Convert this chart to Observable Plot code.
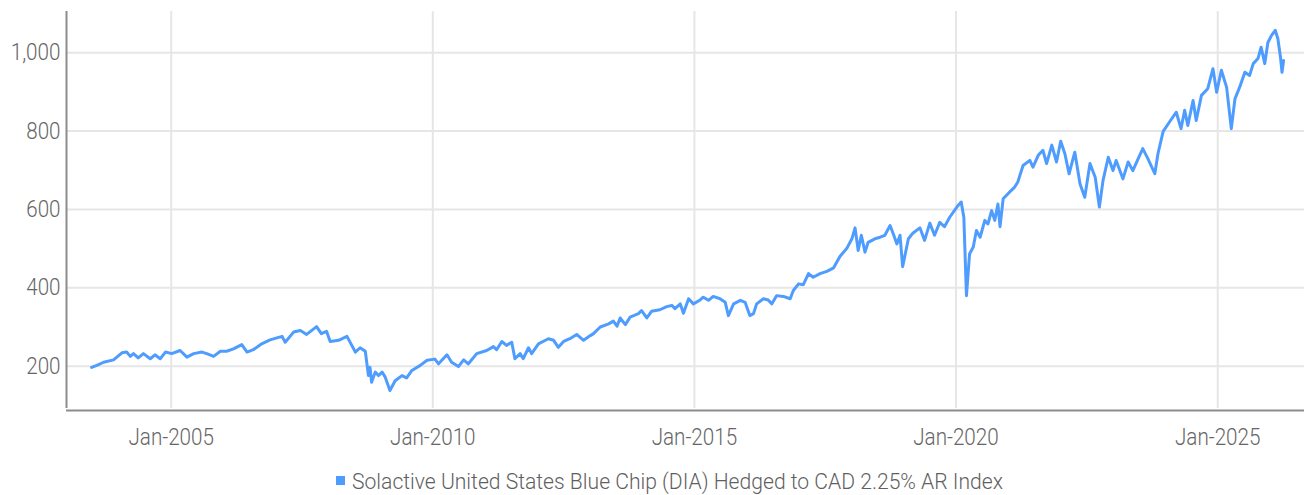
<!DOCTYPE html>
<html>
<head>
<meta charset="utf-8">
<script src="https://cdn.jsdelivr.net/npm/d3@7"></script>
<script src="https://cdn.jsdelivr.net/npm/@observablehq/plot@0.6"></script>
<style>
  html, body { margin: 0; padding: 0; background: #ffffff; }
  body { width: 1306px; height: 495px; overflow: hidden; font-family: "Roboto", sans-serif; }
  #chart svg, #legend svg { display: block; }
</style>
</head>
<body>
<div id="chart"></div>
<div id="legend"></div>
<script>
// ---- data (decimal year, index level) ----
const seriesName = "Solactive United States Blue Chip (DIA) Hedged to CAD 2.25% AR Index";
const years = [
  2003.48,2003.58,2003.71,2003.90,
  2004.06,2004.15,2004.22,2004.28,2004.37,2004.47,2004.60,2004.69,2004.79,2004.89,
  2005.01,2005.17,2005.30,2005.43,2005.59,2005.68,2005.81,2005.94,
  2006.06,2006.19,2006.35,2006.45,2006.57,2006.73,2006.89,
  2007.12,2007.18,2007.34,2007.47,2007.59,2007.78,2007.87,2007.97,
  2008.04,2008.20,2008.36,2008.52,2008.61,2008.71,2008.77,2008.80,2008.83,2008.90,2008.96,
  2009.03,2009.09,2009.18,2009.28,2009.41,2009.50,2009.60,2009.76,2009.89,
  2010.04,2010.11,2010.27,2010.36,2010.49,2010.59,2010.68,2010.84,
  2011.03,2011.16,2011.22,2011.32,2011.41,2011.51,2011.57,2011.67,2011.73,2011.83,2011.89,
  2012.02,2012.21,2012.31,2012.40,2012.50,2012.62,2012.75,2012.88,
  2013.01,2013.07,2013.20,2013.36,2013.45,2013.52,2013.58,2013.68,2013.77,2013.93,2013.99,
  2014.09,2014.18,2014.34,2014.47,2014.57,2014.63,2014.73,2014.79,2014.89,2014.98,
  2015.11,2015.17,2015.27,2015.36,2015.49,2015.59,2015.65,2015.75,2015.88,2015.97,
  2016.06,2016.13,2016.19,2016.32,2016.41,2016.48,2016.57,2016.70,2016.83,2016.89,2016.99,
  2017.08,2017.18,2017.27,2017.40,2017.53,2017.66,2017.78,2017.91,
  2018.01,2018.07,2018.13,2018.19,2018.26,2018.32,2018.45,2018.55,2018.64,2018.74,2018.80,2018.87,2018.93,2018.98,
  2019.09,2019.18,2019.31,2019.40,2019.50,2019.59,2019.69,2019.78,2019.88,
  2020.04,2020.10,2020.15,2020.20,2020.26,2020.33,2020.39,2020.46,2020.55,2020.61,2020.68,2020.74,2020.80,2020.84,2020.90,
  2021.02,2021.12,2021.18,2021.28,2021.41,2021.47,2021.57,2021.66,2021.73,2021.83,2021.92,
  2022.00,2022.08,2022.16,2022.27,2022.37,2022.46,2022.56,2022.66,2022.74,2022.81,2022.91,
  2023.00,2023.06,2023.19,2023.29,2023.38,2023.48,2023.57,2023.67,2023.80,2023.86,2023.96,
  2024.08,2024.21,2024.30,2024.37,2024.43,2024.53,2024.59,2024.69,2024.81,2024.91,2024.98,
  2025.07,2025.17,2025.26,2025.33,2025.42,2025.52,2025.61,2025.68,2025.77,2025.83,2025.90,2025.96,
  2026.03,2026.10,2026.15,2026.20,2026.23,2026.26
];
const values = [
  197,202,210,216,
  234,236,225,232,221,232,219,229,219,236,
  232,240,223,232,236,232,225,238,
  238,244,255,236,242,257,267,
  276,261,287,291,281,301,283,289,
  263,266,276,236,247,238,176,197,159,185,176,
  185,172,138,163,176,170,189,202,215,
  218,206,229,210,199,216,206,232,
  240,250,242,263,253,261,219,232,219,247,232,
  257,270,266,248,263,270,281,266,
  278,283,300,308,315,302,323,306,325,334,342,
  323,340,344,352,355,347,359,335,372,359,
  369,376,368,378,372,363,329,359,368,363,
  329,334,359,372,369,359,380,378,372,393,410,
  408,436,427,436,442,451,480,500,
  525,553,495,534,491,516,525,529,534,559,538,512,534,454,
  525,540,553,521,565,534,567,556,580,
  610,619,580,380,487,504,546,529,572,563,597,572,614,556,627,
  644,657,670,712,725,708,738,751,717,764,721,
  774,742,691,746,665,631,717,682,606,674,733,
  699,725,678,721,699,729,755,729,691,742,799,
  823,848,806,853,814,878,827,891,908,959,899,
  955,912,806,882,912,950,942,972,985,1014,972,1026,
  1044,1057,1036,989,950,980
];
const yTicks = [200, 400, 600, 800, 1000];
const xTickYears = [2005, 2010, 2015, 2020, 2025];

// ---- build table ----
function decToDate(t) {
  const y = Math.floor(t);
  const a = Date.UTC(y, 0, 1), b = Date.UTC(y + 1, 0, 1);
  return new Date(a + (t - y) * (b - a));
}
const n = Math.min(years.length, values.length);
const data = d3.range(n).map(i => ({date: decToDate(years[i]), value: values[i]}));
const xTicks = xTickYears.map(y => new Date(Date.UTC(y, 0, 1)));
const xDomain = [new Date(Date.UTC(2003, 0, 1)), decToDate(2026.66)];
const yDomain = [92, 1105];

const lineColor = "#4f9cff";
const gridColor = "#e6e6e6";
const axisColor = "#8c8c8c";
const textColor = "#666666";

const chart = Plot.plot({
  width: 1306,
  height: 460,
  marginTop: 11,
  marginBottom: 52,
  marginLeft: 66,
  marginRight: 2,
  style: {fontFamily: "Roboto, sans-serif", fontSize: "24px", fontWeight: 300, color: textColor, background: "#ffffff"},
  x: {type: "utc", domain: xDomain},
  y: {domain: yDomain},
  marks: [
    Plot.gridY(yTicks, {stroke: gridColor, strokeOpacity: 1, strokeWidth: 2}),
    Plot.gridX(xTicks, {stroke: gridColor, strokeOpacity: 1, strokeWidth: 2}),
    Plot.axisY(yTicks, {tickSize: 0, tickPadding: 6, label: null, tickFormat: d3.format(",d"), fill: textColor, fontSize: 24}),
    Plot.axisX(xTicks, {tickSize: 0, tickPadding: 19, label: null, tickFormat: d3.utcFormat("%b-%Y"), fill: textColor, fontSize: 24}),
    Plot.lineY(data, {x: "date", y: "value", stroke: lineColor, strokeWidth: 3, strokeLinejoin: "round"}),
    Plot.ruleX([xDomain[0]], {y1: yDomain[0], y2: yDomain[1], stroke: axisColor, strokeWidth: 2}),
    Plot.ruleY([yDomain[0]], {x1: xDomain[0], x2: xDomain[1], stroke: axisColor, strokeWidth: 2, dy: 2})
  ]
});
document.getElementById("chart").appendChild(chart);

// condense the tick labels to mimic the narrow face of the original
chart.querySelectorAll("text").forEach(t => {
  const len = t.getComputedTextLength();
  if (len > 0) {
    t.setAttribute("textLength", (len * 0.86).toFixed(1));
    t.setAttribute("lengthAdjust", "spacingAndGlyphs");
  }
});

// legend (below the chart)
const ns = "http://www.w3.org/2000/svg";
const lg = document.createElementNS(ns, "svg");
lg.setAttribute("width", 1306);
lg.setAttribute("height", 35);
const sw = document.createElementNS(ns, "rect");
sw.setAttribute("x", 336); sw.setAttribute("y", 16);
sw.setAttribute("width", 9); sw.setAttribute("height", 9);
sw.setAttribute("fill", lineColor);
lg.appendChild(sw);
const lt = document.createElementNS(ns, "text");
lt.setAttribute("x", 352); lt.setAttribute("y", 21);
lt.setAttribute("dy", "0.35em");
lt.setAttribute("fill", "#5f5f5f");
lt.setAttribute("font-family", "Roboto, sans-serif");
lt.setAttribute("font-weight", 300);
lt.setAttribute("font-size", 22);
lt.setAttribute("textLength", 651);
lt.setAttribute("lengthAdjust", "spacingAndGlyphs");
lt.textContent = seriesName;
lg.appendChild(lt);
document.getElementById("legend").appendChild(lg);
</script>
</body>
</html>
